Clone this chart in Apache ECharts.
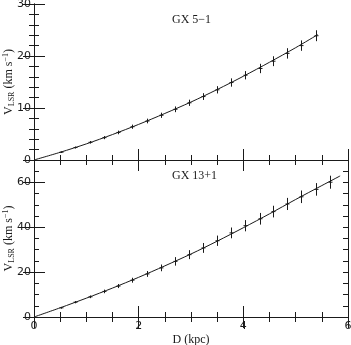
<!DOCTYPE html>
<html>
<head>
<meta charset="utf-8">
<script src="https://cdn.jsdelivr.net/npm/echarts@6/dist/echarts.min.js"></script>
<style>
  html, body { margin: 0; padding: 0; background: #fff; }
  #chart { width: 351px; height: 345px; }
</style>
</head>
<body>
<div id="chart"></div>
<script>
// distances (kpc) and LSR velocities (km/s)
var dist1 = [0.51, 0.79, 1.07, 1.34, 1.61, 1.88, 2.15, 2.42, 2.69, 2.96, 3.23, 3.50, 3.77, 4.04, 4.31, 4.57, 4.84, 5.11, 5.38];
var vlsr1 = [1.5, 2.4, 3.4, 4.3, 5.3, 6.4, 7.5, 8.6, 9.75, 11.0, 12.2, 13.5, 14.9, 16.3, 17.6, 19.0, 20.5, 22.0, 23.9];
var err1  = [0.15, 0.2, 0.25, 0.3, 0.35, 0.4, 0.45, 0.5, 0.55, 0.6, 0.65, 0.7, 0.8, 0.8, 0.9, 0.95, 1.0, 1.0, 1.05];

var dist2 = [0.51, 0.79, 1.07, 1.34, 1.61, 1.88, 2.15, 2.42, 2.69, 2.96, 3.23, 3.50, 3.77, 4.04, 4.31, 4.57, 4.84, 5.11, 5.38, 5.65];
var vlsr2 = [4.1, 6.6, 9.0, 11.4, 13.8, 16.4, 19.2, 21.9, 24.8, 27.8, 30.8, 34.0, 37.5, 40.7, 43.8, 47.0, 50.4, 53.6, 56.9, 60.1];
var err2  = [0.4, 0.5, 0.6, 0.8, 0.9, 1.1, 1.3, 1.5, 1.9, 2.0, 2.2, 2.3, 2.4, 2.5, 2.6, 2.6, 2.7, 2.8, 2.8, 2.9];

// model curves
var fitD1 = [0, 0.5, 1, 1.5, 2, 2.5, 3, 3.5, 4, 4.5, 5, 5.42];
var fitV1 = [0, 1.48, 3.1, 4.9, 6.85, 8.95, 11.15, 13.55, 16.1, 18.8, 21.6, 24.1];
var fitD2 = [0, 0.5, 1, 1.5, 2, 2.5, 3, 3.5, 4, 4.5, 5, 5.5, 5.85];
var fitV2 = [0, 4.1, 8.4, 12.9, 17.7, 22.8, 28.1, 33.8, 39.8, 46.0, 52.4, 58.6, 62.9];

var labels = ['GX 5\u22121', 'GX 13+1'];

var ink = '#1a1a1a';
var serif = 'Liberation Serif';
var sans = 'DejaVu Sans';

function pairs(xs, ys, es) {
    return xs.map(function (x, i) { return es ? [x, ys[i], es[i]] : [x, ys[i]]; });
}

function errItem(params, api) {
    var x = api.value(0), y = api.value(1), e = api.value(2);
    var hi = api.coord([x, y + e]);
    var lo = api.coord([x, y - e]);
    var c = api.coord([x, y]);
    var sx = Math.round(c[0]) + 0.5;
    var st = { stroke: ink, lineWidth: 1 };
    return {
        type: 'group',
        children: [
            { type: 'line', shape: { x1: sx, y1: hi[1], x2: sx, y2: lo[1] }, style: st },
            { type: 'line', shape: { x1: sx - 2, y1: c[1], x2: sx + 2, y2: c[1] }, style: st }
        ]
    };
}

var lineStyle = { color: ink, width: 1 };

function xAx(grid, pos, withLabels) {
    return {
        type: 'value', gridIndex: grid, position: pos, min: 0, max: 6, interval: 2,
        axisLine: { show: true, lineStyle: lineStyle },
        axisTick: { show: true, inside: true, length: 11, lineStyle: lineStyle },
        minorTick: { show: true, splitNumber: 4, length: 5, lineStyle: lineStyle },
        axisLabel: { show: withLabels, margin: 4, color: ink, fontFamily: sans, fontSize: 11 },
        splitLine: { show: false },
        name: withLabels ? 'D (kpc)' : '', nameLocation: 'middle', nameGap: 17,
        nameMoveOverlap: false,
        nameTextStyle: { color: ink, fontFamily: serif, fontSize: 12 }
    };
}

var yName = 'V{sub|LSR} (km s{sup|\u22121})';
var yNameStyle = {
    color: ink, fontFamily: serif, fontSize: 12,
    rich: {
        sub: { fontFamily: serif, fontSize: 8, color: ink, padding: [7, 0, 0, 0] },
        sup: { fontFamily: serif, fontSize: 8, color: ink, padding: [0, 0, 6, 0] }
    }
};

function yAx(grid, pos, max, interval, minorSplit, tickLen, withLabels) {
    return {
        type: 'value', gridIndex: grid, position: pos, min: 0, max: max, interval: interval,
        axisLine: { show: true, lineStyle: lineStyle },
        axisTick: { show: true, inside: true, length: tickLen, lineStyle: lineStyle },
        minorTick: { show: minorSplit > 0, splitNumber: minorSplit || 5, length: 5, lineStyle: lineStyle },
        axisLabel: {
            show: withLabels, margin: 3, color: ink, fontFamily: sans, fontSize: 11,
            formatter: function (v) { return v === max && max % interval !== 0 ? '' : v; }
        },
        splitLine: { show: false },
        name: withLabels ? yName : '', nameLocation: 'middle', nameGap: 18,
        nameMoveOverlap: false,
        nameTextStyle: yNameStyle
    };
}

var chart = echarts.init(document.getElementById('chart'), null, { renderer: 'canvas' });

chart.setOption({
    animation: false,
    backgroundColor: '#fff',
    grid: [
        { left: 34, top: 4, width: 314, height: 156, containLabel: false, outerBoundsMode: 'none' },
        { left: 34, top: 160, width: 314, height: 157, containLabel: false, outerBoundsMode: 'none' }
    ],
    xAxis: [
        xAx(0, 'bottom', false),
        xAx(0, 'top', false),
        xAx(1, 'bottom', true),
        xAx(1, 'top', false)
    ],
    yAxis: [
        yAx(0, 'left', 30, 10, 5, 11, true),
        yAx(0, 'right', 30, 10, 5, 11, false),
        yAx(1, 'left', 70, 20, 0, 11, true),
        yAx(1, 'right', 70, 20, 0, 11, false),
        // minor ticks of the lower panel (every 5)
        yAx(1, 'left', 70, 5, 0, 5, false),
        yAx(1, 'right', 70, 5, 0, 5, false)
    ],
    graphic: [
        { type: 'text', left: 172, top: 14, style: { text: labels[0], fill: ink, font: '12px "' + serif + '"' } },
        { type: 'text', left: 172, top: 170, style: { text: labels[1], fill: ink, font: '12px "' + serif + '"' } }
    ],
    series: [
        {
            type: 'line', xAxisIndex: 0, yAxisIndex: 0, data: pairs(fitD1, fitV1),
            smooth: 0.3, showSymbol: false, lineStyle: lineStyle
        },
        {
            type: 'custom', xAxisIndex: 0, yAxisIndex: 0, data: pairs(dist1, vlsr1, err1),
            renderItem: errItem
        },
        {
            type: 'line', xAxisIndex: 2, yAxisIndex: 2, data: pairs(fitD2, fitV2),
            smooth: 0.3, showSymbol: false, lineStyle: lineStyle
        },
        {
            type: 'custom', xAxisIndex: 2, yAxisIndex: 2, data: pairs(dist2, vlsr2, err2),
            renderItem: errItem
        }
    ]
});
</script>
</body>
</html>
